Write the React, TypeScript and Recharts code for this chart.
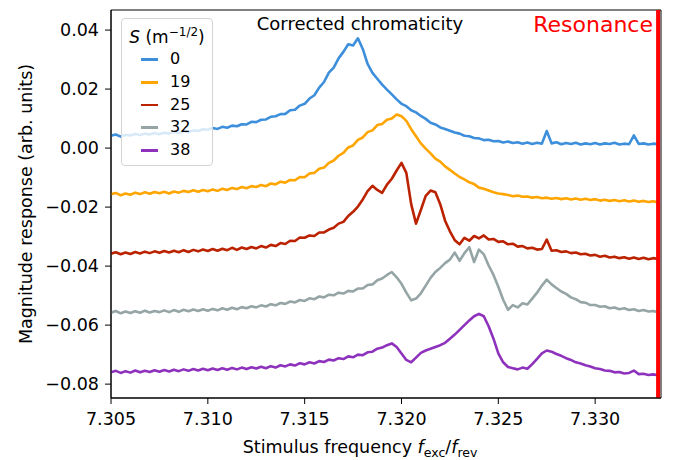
import React from "react";
import { LineChart, Line, XAxis, YAxis, ReferenceLine, ReferenceArea } from "recharts";

// stimulus frequency grid (f_exc / f_rev), step 0.00025
const freq = Array.from({ length: 114 }, (_, i) => +(7.305 + i * 0.00025).toFixed(5));

// magnitude response in units of 1e-3 (arb. units), one value per freq point
const s0 = [
  4.2, 4.6, 3.9, 4.5, 4.3, 4.8, 4.4, 4.9, 4.6, 5.1,
  4.7, 5.2, 4.9, 5.5, 5.1, 5.7, 5.4, 6.0, 5.8, 6.4,
  6.2, 6.8, 6.5, 7.2, 6.9, 7.6, 7.4, 8.1, 8.0, 8.9,
  8.8, 9.6, 9.7, 10.6, 10.8, 11.5, 11.6, 12.8, 13.0, 14.4,
  15.0, 16.8, 17.9, 20.5, 22.4, 25.6, 27.3, 30.4, 32.6, 35.2,
  34.8, 37.2, 33.6, 28.5, 25.5, 23.5, 21.5, 19.8, 18.2, 16.5,
  15.0, 14.2, 12.8, 12.1, 10.9, 9.9, 8.6, 8.0, 7.0, 6.5,
  5.9, 5.3, 4.9, 4.2, 4.0, 3.4, 3.3, 2.7, 2.8, 2.3,
  2.4, 1.9, 2.2, 1.7, 2.0, 1.5, 1.9, 1.4, 1.8, 1.5,
  5.8, 1.6, 2.0, 1.3, 1.7, 1.4, 1.8, 1.2, 1.6, 1.3,
  1.7, 1.2, 1.6, 1.4, 1.8, 1.2, 1.5, 1.3, 4.3, 1.4,
  1.6, 1.2, 1.5, 1.3,
];
const s19 = [
  -15.6, -15.2, -16.0, -15.4, -15.8, -15.1, -15.6, -15.0, -15.5, -14.9,
  -15.3, -14.8, -15.4, -14.7, -15.1, -14.5, -14.9, -14.3, -14.8, -14.2,
  -14.6, -14.0, -14.5, -13.8, -14.2, -13.5, -13.9, -13.2, -13.6, -12.9,
  -13.2, -12.5, -12.9, -12.0, -12.3, -11.4, -11.7, -10.8, -10.9, -9.8,
  -9.9, -8.6, -8.4, -7.0, -6.6, -5.0, -4.2, -2.6, -1.6, 0.2,
  0.9, 2.8, 3.6, 5.4, 6.0, 7.8, 8.2, 9.6, 10.0, 11.4,
  10.8, 9.2, 6.4, 4.0, 1.6, -0.2, -1.8, -3.6, -4.6, -6.2,
  -7.4, -8.6, -9.8, -10.6, -11.6, -12.2, -13.4, -13.8, -14.4, -15.0,
  -15.4, -15.6, -15.9, -16.3, -16.1, -16.5, -16.4, -16.8, -16.6, -17.0,
  -16.8, -17.2, -16.9, -17.3, -17.0, -17.4, -17.1, -17.5, -17.2, -17.6,
  -17.3, -17.8, -17.5, -17.9, -17.6, -18.0, -17.7, -18.1, -17.8, -18.2,
  -17.9, -18.3, -18.0, -18.4,
];
const s25 = [
  -35.8, -35.3, -36.0, -35.4, -35.9, -35.2, -35.7, -35.1, -35.6, -35.0,
  -35.5, -34.9, -35.4, -34.8, -35.3, -34.6, -35.2, -34.5, -35.0, -34.4,
  -34.9, -34.2, -34.8, -34.1, -34.6, -33.8, -34.5, -33.7, -34.2, -33.5,
  -34.0, -33.2, -33.7, -32.8, -33.2, -32.2, -32.5, -31.4, -31.5, -30.3,
  -30.4, -29.6, -29.8, -28.6, -28.6, -27.6, -27.0, -25.6, -25.0, -23.0,
  -21.6, -19.8, -17.4, -14.6, -12.8, -14.2, -15.2, -12.4, -10.4, -7.6,
  -5.0, -8.4, -19.0, -25.6, -21.0, -16.2, -14.4, -15.0, -19.0, -24.6,
  -28.2, -31.2, -32.6, -30.4, -31.4, -29.8, -30.6, -29.6, -31.0, -30.8,
  -31.8, -31.6, -32.6, -32.4, -33.4, -33.2, -34.0, -33.8, -34.4, -34.2,
  -31.0, -34.8, -34.6, -35.2, -35.0, -35.6, -35.4, -36.0, -35.8, -36.4,
  -36.2, -36.8, -36.5, -37.1, -36.8, -37.3, -37.0, -37.5, -37.1, -37.6,
  -37.2, -37.7, -37.3, -37.6,
];
const s32 = [
  -55.8, -55.2, -56.0, -55.4, -55.9, -55.3, -55.8, -55.1, -55.7, -55.2,
  -55.6, -55.0, -55.6, -54.9, -55.5, -54.8, -55.3, -54.7, -55.2, -54.6,
  -55.1, -54.5, -55.0, -54.3, -54.8, -54.1, -54.6, -53.9, -54.3, -53.6,
  -54.0, -53.3, -53.7, -52.9, -53.3, -52.5, -52.8, -52.0, -52.3, -51.5,
  -51.8, -50.9, -51.2, -50.3, -50.6, -49.7, -49.9, -49.0, -49.3, -48.4,
  -48.6, -47.6, -47.6, -46.4, -46.2, -44.8, -44.2, -43.0, -42.0, -43.8,
  -46.0, -49.0, -51.6, -51.0, -49.2, -46.6, -44.0, -42.0, -40.6, -39.0,
  -37.8, -35.4, -38.2, -35.6, -33.6, -38.6, -34.4, -36.0, -39.8, -43.0,
  -47.0, -51.4, -54.8, -53.2, -54.0, -52.6, -53.0, -51.0, -49.0, -46.6,
  -44.6, -46.2, -47.4, -48.6, -49.4, -50.6, -51.2, -52.2, -52.4, -53.2,
  -53.2, -53.8, -53.6, -54.3, -54.0, -54.6, -54.3, -54.9, -54.6, -55.2,
  -54.9, -55.4, -55.2, -55.6,
];
const s38 = [
  -76.0, -75.5, -76.2, -75.6, -76.1, -75.4, -76.0, -75.5, -75.9, -75.3,
  -75.8, -75.2, -75.7, -75.1, -75.6, -75.0, -75.5, -74.9, -75.4, -74.8,
  -75.3, -74.7, -75.2, -74.6, -75.1, -74.5, -75.0, -74.4, -74.9, -74.3,
  -74.7, -74.1, -74.6, -73.9, -74.4, -73.6, -74.0, -73.3, -73.7, -72.9,
  -73.3, -72.6, -73.0, -72.2, -72.5, -71.7, -72.0, -71.2, -71.5, -70.6,
  -70.9, -70.0, -70.2, -69.2, -69.0, -68.0, -67.6, -66.8, -66.2, -67.4,
  -69.6, -71.8, -72.6, -71.0, -69.4, -68.6, -68.0, -67.4, -66.8, -66.0,
  -64.6, -63.2, -61.6, -60.0, -58.4, -57.0, -56.2, -57.0, -60.4, -64.6,
  -69.6, -72.6, -74.2, -74.6, -75.0, -74.4, -74.8, -73.2, -71.4, -69.6,
  -68.6, -69.0, -69.8, -70.4, -71.2, -71.8, -72.6, -73.0, -73.6, -74.0,
  -74.6, -74.9, -75.4, -75.5, -76.0, -75.9, -76.4, -76.2, -75.4, -76.6,
  -76.5, -76.9, -76.7, -77.0,
];

const labels = ["0", "19", "25", "32", "38"];
const colors = ["#3d8fdb", "#ffa500", "#bb2200", "#95a5a6", "#8e32bd"];
const keys = ["s0", "s19", "s25", "s32", "s38"];
const columns = [s0, s19, s25, s32, s38];

const xTicks = [7.305, 7.31, 7.315, 7.32, 7.325, 7.33];
const yTicks = [-0.08, -0.06, -0.04, -0.02, 0, 0.02, 0.04];
const xDomain = [7.305, 7.3334];
const yDomain = [-0.0847, 0.0468];
const resonance = 7.33325;

const data = freq.map((f, i) => {
  const row: Record<string, number> = { f };
  keys.forEach((k, j) => (row[k] = columns[j][i] / 1000));
  return row;
});

const font = "'DejaVu Sans', sans-serif";

const fmtY = (v: number) => (v < -1e-9 ? "\u2212" : "") + Math.abs(v).toFixed(2);

export default function App() {
  return (
    <div style={{ position: "absolute", left: 0, top: 0, width: 678, height: 460, background: "#fff", fontFamily: font }}>
      <LineChart width={678} height={460} data={data} margin={{ top: 10, right: 17, bottom: 0, left: 0 }}>
        <XAxis
          dataKey="f"
          type="number"
          domain={xDomain}
          ticks={xTicks}
          allowDataOverflow
          height={62}
          tickSize={6}
          tickMargin={9}
          tickFormatter={(v: number) => v.toFixed(3)}
          stroke="#000"
          tick={{ fill: "#000", fontSize: 17.5, fontFamily: font }}
        />
        <YAxis
          type="number"
          domain={yDomain}
          ticks={yTicks}
          allowDataOverflow
          width={111}
          tickSize={6}
          tickMargin={6}
          tickFormatter={fmtY}
          stroke="#000"
          tick={{ fill: "#000", fontSize: 17.5, fontFamily: font }}
        />
        {keys.map((k, j) => (
          <Line
            key={k}
            type="linear"
            dataKey={k}
            stroke={colors[j]}
            strokeWidth={2.6}
            strokeLinejoin="round"
            dot={false}
            isAnimationActive={false}
          />
        ))}
        <ReferenceLine x={resonance} stroke="#ff0000" strokeWidth={4} />
        <ReferenceArea
          x1={xDomain[0]}
          x2={xDomain[1]}
          y1={yDomain[0]}
          y2={yDomain[1]}
          fill="none"
          fillOpacity={0}
          stroke="#000"
          strokeWidth={1}
        />
      </LineChart>

      <svg width={678} height={460} style={{ position: "absolute", left: 0, top: 0, pointerEvents: "none" }}>
        <text x={360} y={30} textAnchor="middle" fontSize={18} fontFamily={font} fill="#000">
          Corrected chromaticity
        </text>
        <text x={653} y={31.5} textAnchor="end" fontSize={22} fontFamily={font} fill="#ff0000">
          Resonance
        </text>
        <text x={360} y={453} textAnchor="middle" fontSize={17.5} fontFamily={font} fill="#000">
          Stimulus frequency <tspan fontStyle="italic">f</tspan>
          <tspan fontSize={12.5} dy={4}>exc</tspan>
          <tspan dy={-4}>/</tspan>
          <tspan fontStyle="italic">f</tspan>
          <tspan fontSize={12.5} dy={4}>rev</tspan>
        </text>
        <text
          x={32}
          y={204}
          transform="rotate(-90 32 204)"
          textAnchor="middle"
          fontSize={17.5}
          fontFamily={font}
          fill="#000"
        >
          Magnitude response (arb. units)
        </text>
      </svg>

      <div
        style={{
          position: "absolute",
          left: 121,
          top: 18,
          width: 92,
          height: 148,
          boxSizing: "border-box",
          border: "1px solid #d4d4d4",
          borderRadius: 4,
          background: "rgba(255,255,255,0.8)",
        }}
      >
        <div
          style={{
            position: "absolute",
            left: 0,
            width: "100%",
            top: 6,
            textAlign: "center",
            fontSize: 17,
            lineHeight: "24px",
            whiteSpace: "nowrap",
          }}
        >
          <i>S</i> (m<sup style={{ fontSize: 12, verticalAlign: 0, position: "relative", top: -7 }}>{"\u22121/2"}</sup>)
        </div>
        {labels.map((lab, j) => (
          <div
            key={lab}
            style={{ position: "absolute", left: 0, top: 29.3 + j * 22.7, height: 22, width: "100%" }}
          >
            <div
              style={{
                position: "absolute",
                left: 19,
                top: 10,
                width: 17,
                height: 2.5,
                background: colors[j],
              }}
            />
            <div style={{ position: "absolute", left: 48, top: 0, fontSize: 16, lineHeight: "22px" }}>{lab}</div>
          </div>
        ))}
      </div>
    </div>
  );
}
